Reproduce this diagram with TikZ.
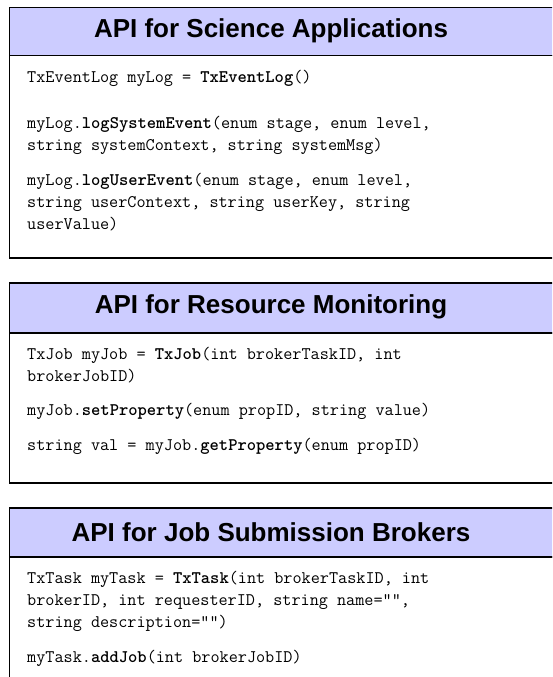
\documentclass[tikz,border=0pt]{standalone}
\usepackage{fontspec}
\usepackage{xcolor}
\usetikzlibrary{positioning}
\newfontfamily\titlefont{Liberation Sans}
\definecolor{hdrblue}{RGB}{204,204,255}

\begin{document}
\begin{tikzpicture}[x=1pt, y=-1pt,
  frame/.style={draw=black, line width=1.5pt, fill=white, anchor=north west,
                inner sep=0pt, minimum width=560pt},
  hdr/.style={frame, fill=hdrblue, minimum height=48pt},
  title/.style={font=\titlefont\bfseries\fontsize{26}{30}\selectfont},
  code/.style={anchor=base west, align=left, inner sep=0pt,
               font=\ttfamily\fontsize{17.7}{22}\selectfont}
]
\path[use as bounding box] (0,0) rectangle (552,677);
\clip (0,0) rectangle (552,677);

% Science applications (base = last line)
\node[frame, minimum height=202pt] (sci_body) at (8.5,55) {};
\node[hdr] (sci_hdr) at (8.5,7) {};
\node[title] (sci_title) at (271,31) {API for Science Applications};
\node[code] (sci_log)  at (27,82)  {TxEventLog myLog = \textbf{TxEventLog}()};
\node[code] (sci_sys)  at (27,150) {myLog.\textbf{logSystemEvent}(enum stage, enum level,\\string systemContext, string systemMsg)};
\node[code] (sci_user) at (27,229) {myLog.\textbf{logUserEvent}(enum stage, enum level,\\string userContext, string userKey, string\\userValue)};

% Resource monitoring
\node[frame, minimum height=150pt] (mon_body) at (8.5,332) {};
\node[hdr, minimum height=50pt] (mon_hdr) at (8.5,282) {};
\node[title] (mon_title) at (271,307) {API for Resource Monitoring};
\node[code] (mon_job) at (27,381) {TxJob myJob = \textbf{TxJob}(int brokerTaskID, int\\brokerJobID)};
\node[code] (mon_set) at (27,415) {myJob.\textbf{setProperty}(enum propID, string value)};
\node[code] (mon_get) at (27,450) {string val = myJob.\textbf{getProperty}(enum propID)};

% Job submission brokers
\node[frame, minimum height=140pt] (brk_body) at (8.5,556) {};
\node[hdr, minimum height=49pt] (brk_hdr) at (8.5,507) {};
\node[title] (brk_title) at (271,532) {API for Job Submission Brokers};
\node[code] (brk_task) at (27,627) {TxTask myTask = \textbf{TxTask}(int brokerTaskID, int\\brokerID, int requesterID, string name="",\\string description="")};
\node[code] (brk_add)  at (27,662) {myTask.\textbf{addJob}(int brokerJobID)};

\end{tikzpicture}
\end{document}
